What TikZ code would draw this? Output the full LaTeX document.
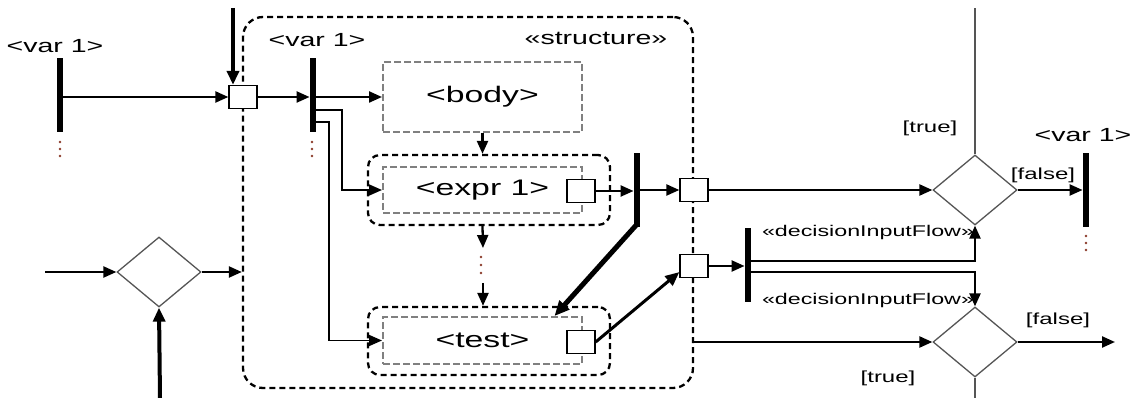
\documentclass[tikz,border=0pt]{standalone}
\usepackage{fontspec}
\setmainfont[FakeStretch=1.5]{Liberation Sans}
\usetikzlibrary{arrows.meta,shapes.geometric,calc}
\definecolor{dotc}{HTML}{8B3A2A}
\definecolor{boxgray}{HTML}{808080}
\definecolor{diagray}{HTML}{555555}
\begin{document}
\begin{tikzpicture}[x=1pt,y=-1pt,
 flow/.style={line width=2.3pt,-{Triangle[length=13pt,width=11pt]}},
 thinflow/.style={line width=1.7pt,-{Triangle[length=13pt,width=11pt]}},
 thickflow/.style={line width=4pt,-{Triangle[length=14pt,width=12pt]}},
 diagflow/.style={line width=3pt,-{Triangle[length=14pt,width=12pt]}},
 forkbar/.style={fill=black,inner sep=0,minimum width=6.5pt,minimum height=74pt},
 pin/.style={draw,fill=white,line width=1.3pt,inner sep=0,minimum width=28pt,minimum height=23pt},
 region/.style={draw,dash pattern=on 6pt off 4pt,line width=2.3pt,inner sep=0},
 action/.style={draw=boxgray,dash pattern=on 7pt off 3pt,line width=2pt,inner sep=0,font=\fontsize{22.5}{26}\selectfont},
 decision/.style={diamond,draw=diagray,line width=1.3pt,inner sep=0,minimum width=84pt,minimum height=70pt},
 guideline/.style={draw=diagray,line width=1.3pt},
 lbl/.style={inner sep=0,font=\fontsize{19}{22}\selectfont},
 guard/.style={inner sep=0,font=\fontsize{16}{19}\selectfont},
 stereo/.style={inner sep=0,font=\fontsize{15.5}{18}\selectfont},
]
\useasboundingbox (0,0) rectangle (1133,398);

% regions and boxes
\node[region,rounded corners=20pt,minimum width=450pt,minimum height=371pt] (structure) at (468,202.5) {};
\node[lbl] (stlabel) at (596,38) {«structure»};
\node[region,rounded corners=12pt,minimum width=242pt,minimum height=70pt] (exprOuter) at (489,190) {};
\node[region,rounded corners=12pt,minimum width=242pt,minimum height=68pt] (testOuter) at (489,341) {};
\node[action,minimum width=199pt,minimum height=70pt] (body) at (482.5,97) {<body>};
\node[action,minimum width=199pt,minimum height=46pt] (exprIn) at (482.5,190) {<expr 1>};
\node[action,minimum width=199pt,minimum height=47pt] (testIn) at (482.5,340.5) {<test>};

% pins
\node[pin] (pinIn) at (243,97) {};
\node[pin] (exprPin) at (581,191) {};
\node[pin] (testPin) at (581,342) {};
\node[pin] (pinOut1) at (694,190) {};
\node[pin] (pinOut2) at (694,266) {};

% fork bars and labels
\node[lbl] (v1) at (55,46) {<var 1>};
\node[forkbar] (bar1) at (60,95) {};
\node[lbl] (v2) at (317,40) {<var 1>};
\node[forkbar] (bar2) at (313,95) {};
\node[forkbar] (bar3) at (637,190) {};
\node[forkbar] (bar4) at (748,265) {};
\node[lbl] (v3) at (1083,135) {<var 1>};
\node[forkbar] (bar5) at (1086,190) {};

\foreach \yy in {142,149,156} {\fill[dotc] (60,\yy) circle (1.3pt); \fill[dotc] (312,\yy) circle (1.3pt);}
\foreach \yy in {236,243,250} \fill[dotc] (1086,\yy) circle (1.3pt);
\foreach \yy in {257,265,273} \fill[dotc] (481,\yy) circle (1.3pt);

% decisions
\node[decision] (decL) at (159,272) {};
\node[decision] (dec1) at (975,190) {};
\node[decision] (dec2) at (975,342) {};

% guard and stereotype labels
\node[guard] (t1) at (930,128) {[true]};
\node[guard] (f1) at (1043,175) {[false]};
\node[guard] (t2) at (888,378) {[true]};
\node[guard] (f2) at (1058,320) {[false]};
\node[stereo] (s1) at (868,232) {«decisionInputFlow»};
\node[stereo] (s2) at (868,300) {«decisionInputFlow»};

% free ends
\coordinate (topIn) at (233,8);
\coordinate (j1) at (342,0);
\coordinate (j2) at (329,0);
\coordinate (d1) at (483,248);
\coordinate (d2) at (483,283);
\coordinate (inL) at (45,272);
\coordinate (botL) at (160,398);
\coordinate (top1) at (975,8);
\coordinate (bot2) at (975,398);
\coordinate (out2) at (1115,342);

% connectors
\draw[thickflow] (topIn) -- (topIn |- pinIn.north);
\draw[flow] (bar1.east |- pinIn.west) -- (pinIn.west);
\draw[flow] (pinIn.east) -- (bar2.west |- pinIn.east);
\draw[flow] (bar2.east |- body.west) -- (body.west);
\draw[thinflow] (bar2.east |- 0,110) -| (j1 |- exprIn.west) -- (exprIn.west);
\draw[thinflow] (bar2.east |- 0,122) -| (j2 |- testIn.west) -- (testIn.west);
\draw[flow] (body.south) -- (body.south |- exprOuter.north);
\draw[flow] (body.south |- exprOuter.south) -- (d1);
\draw[flow] (d2) -- (d2 |- testOuter.north);
\draw[flow] (exprPin.east) -- (bar3.west |- exprPin.east);
\draw[flow] (bar3.east |- pinOut1.west) -- (pinOut1.west);
\draw[flow] (pinOut1.east) -- (dec1.west);
\draw[line width=5pt,-{Triangle[length=15pt,width=13pt]}] ($(bar3.south)+(0,-3)$) -- ($(testIn.north)+(72,0)$);
\draw[diagflow] (testPin.east) -- ($(pinOut2.west)!0.5!(pinOut2.south west)$);
\draw[flow] (pinOut2.east) -- (bar4.west |- pinOut2.east);
\draw[flow] (bar4.east |- 0,261) -| (dec1.south);
\draw[flow] (bar4.east |- 0,272) -| (dec2.north);
\draw[flow] (structure.east |- dec2.west) -- (dec2.west);
\draw[flow] (inL) -- (decL.west);
\draw[flow] (decL.east) -- (structure.west |- decL.east);
\draw[thickflow] (botL) -- (decL.south);
\draw[guideline] (dec1.north) -- (top1);
\draw[guideline] (dec2.south) -- (bot2);
\draw[flow] (dec1.east) -- (bar5.west |- dec1.east);
\draw[flow] (dec2.east) -- (out2);
\end{tikzpicture}
\end{document}
